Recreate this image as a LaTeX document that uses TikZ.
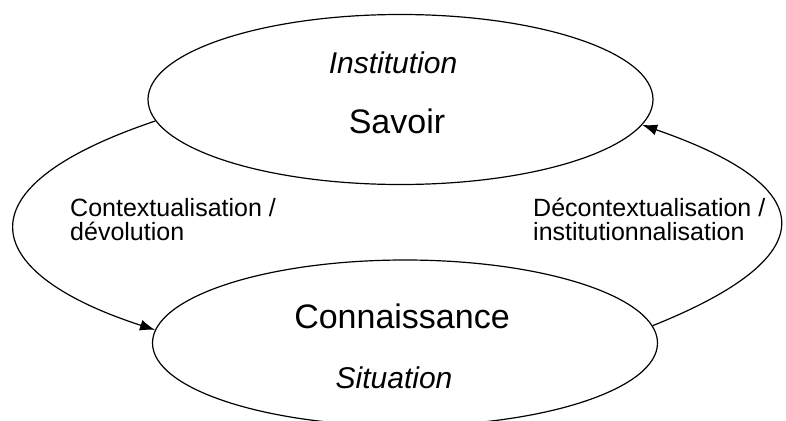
\documentclass[tikz,border=0pt]{standalone}
\usepackage{fontspec}
\setmainfont{Liberation Sans}
\usetikzlibrary{shapes.geometric,arrows.meta}
\begin{document}
\begin{tikzpicture}[x=1pt,y=-1pt,
  pole/.style={ellipse,draw,line width=1.2pt,minimum width=505pt,minimum height=170pt,inner sep=0pt},
  bigtxt/.style={anchor=base,inner sep=0pt,font=\fontsize{34}{40}\selectfont},
  ittxt/.style={anchor=base,inner sep=0pt,font=\fontsize{30}{36}\selectfont\itshape},
  lbl/.style={anchor=base west,inner sep=0pt,align=left,font=\fontsize{25}{24}\selectfont},
  flow/.style={line width=1.2pt,-{Latex[length=15pt,width=11pt]}}]
\useasboundingbox (0,0) rectangle (786,420);
\node[pole] (top) at (400.5,99.5) {};
\node[pole,minimum height=166pt] (bot) at (405,343) {};
\node[ittxt] (inst) at (393,73) {Institution};
\node[bigtxt] (sav) at (397,133) {Savoir};
\node[bigtxt] (conn) at (402,328) {Connaissance};
\node[ittxt] (sit) at (394,388) {Situation};
\node[lbl] (l1) at (70,240) {Contextualisation /\\dévolution};
\node[lbl] (l2) at (533,240) {Décontextualisation /\\institutionnalisation};
\draw[flow] (top.185) .. controls (-50,190) and (-15,275) .. (bot.177);
\draw[flow] (bot.4) .. controls (812,262) and (836,192) .. (top.354);
\end{tikzpicture}
\end{document}
